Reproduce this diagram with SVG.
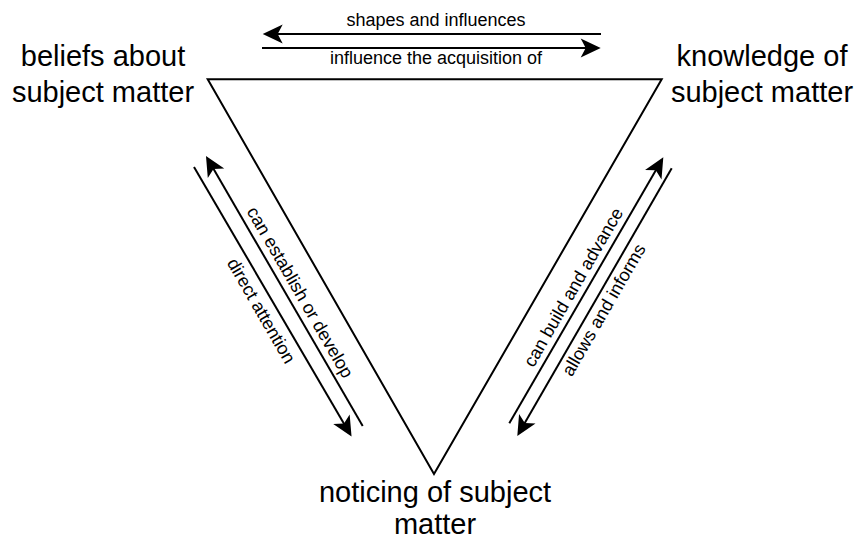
<svg xmlns="http://www.w3.org/2000/svg" width="857" height="541" viewBox="0 0 857 541">
<style>
.node{font-family:"Liberation Sans",Arial,sans-serif;font-size:29px;fill:#000;text-anchor:middle}
.lbl{font-family:"Liberation Sans",Arial,sans-serif;font-size:18px;fill:#000;text-anchor:middle}
.edge{stroke:#000;stroke-width:2;fill:none}
.arr{stroke:#000;stroke-width:2;fill:none;marker-end:url(#ah)}
</style>
<defs>
<marker id="ah" markerUnits="userSpaceOnUse" viewBox="-11 -11 22 22" markerWidth="22" markerHeight="22" refX="0" refY="0" orient="auto">
<path d="M10,0 L-10,-9.5 L-5,0 L-10,9.5 Z" fill="#000"/>
</marker>
</defs>
<rect width="857" height="541" fill="#fff"/>
<g id="triangle">
<polygon class="edge" points="207.7,79.3 661.7,79.3 434,474" stroke-linejoin="miter"/>
</g>
<g id="beliefs">
<text class="node" x="103" y="66">beliefs about</text>
<text class="node" x="103" y="102">subject matter</text>
</g>
<g id="knowledge">
<text class="node" x="762" y="66">knowledge of</text>
<text class="node" x="762" y="102">subject matter</text>
</g>
<g id="noticing">
<text class="node" x="435" y="502">noticing of subject</text>
<text class="node" x="435" y="534">matter</text>
</g>
<g id="connectors">
<line class="arr" x1="601" y1="34" x2="272.7" y2="34"/>
<line class="arr" x1="262" y1="48" x2="590.7" y2="48"/>
<line class="arr" x1="194" y1="167" x2="346.5" y2="427.9"/>
<line class="arr" x1="362.7" y1="426" x2="211" y2="164.6"/>
<line class="arr" x1="509.3" y1="423.3" x2="658.3" y2="166"/>
<line class="arr" x1="671.7" y1="168.3" x2="522.3" y2="427.3"/>
<text class="lbl" x="436" y="26">shapes and influences</text>
<text class="lbl" x="436" y="64">influence the acquisition of</text>
<text class="lbl" transform="translate(294.9,295.4) rotate(60)">can establish or develop</text>
<text class="lbl" transform="translate(256,313.8) rotate(60)">direct attention</text>
<text class="lbl" transform="translate(578.6,290.3) rotate(-60)">can build and advance</text>
<text class="lbl" transform="translate(609,312.9) rotate(-60)">allows and informs</text>
</g>
</svg>
